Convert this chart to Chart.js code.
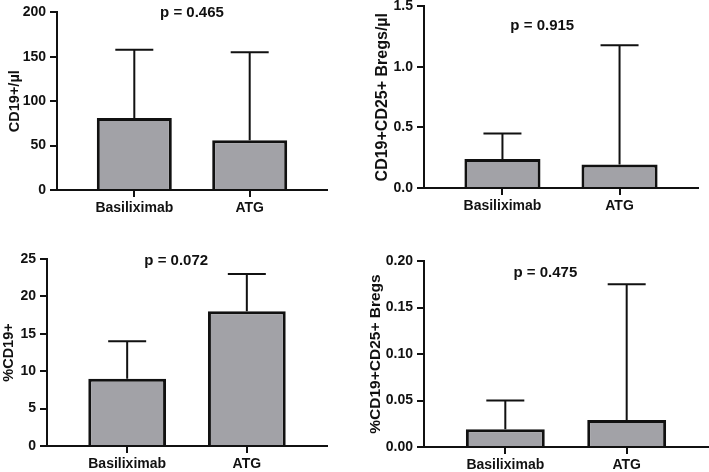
<!DOCTYPE html>
<html>
<head>
<meta charset="utf-8">
<script src="https://cdn.jsdelivr.net/npm/chart.js@4"></script>
<style>
  body { margin: 0; background: #fff; }
  #wrap { position: relative; width: 709px; height: 472px; overflow: hidden; }
  .box { position: absolute; }
</style>
</head>
<body>
<div id="wrap">
  <div class="box" style="left:0;top:0;width:345px;height:232px"><canvas id="c1"></canvas></div>
  <div class="box" style="left:350px;top:-6px;width:359px;height:238px"><canvas id="c2"></canvas></div>
  <div class="box" style="left:0;top:236px;width:345px;height:236px"><canvas id="c3"></canvas></div>
  <div class="box" style="left:350px;top:236px;width:359px;height:236px"><canvas id="c4"></canvas></div>
</div>
<script>
// groups on the x axis
const groups = ['Basiliximab', 'ATG'];

// CD19+/µl
const cd19Abs = [81, 56];
const cd19AbsErr = [158, 155];
const cd19AbsTicks = [0, 50, 100, 150, 200];

// CD19+CD25+ Bregs/µl
const bregAbs = [0.24, 0.195];
const bregAbsErr = [0.45, 1.18];
const bregAbsTicks = [0, 0.5, 1.0, 1.5];

// %CD19+
const cd19Pct = [9, 18];
const cd19PctErr = [14, 23];
const cd19PctTicks = [0, 5, 10, 15, 20, 25];

// %CD19+CD25+ Bregs
const bregPct = [0.019, 0.029];
const bregPctErr = [0.05, 0.175];
const bregPctTicks = [0, 0.05, 0.10, 0.15, 0.20];

const pValues = ['p = 0.465', 'p = 0.915', 'p = 0.072', 'p = 0.475'];

const FONT = '"Liberation Sans", Arial, sans-serif';

// error bars (upper only) + p value text
const errorBarPlugin = {
    id: 'errorBars',
    afterDatasetsDraw(chart, args, opts) {
        const ctx = chart.ctx;
        const meta = chart.getDatasetMeta(0);
        const yScale = chart.scales.y;
        const xScale = chart.scales.x;
        ctx.save();
        ctx.strokeStyle = '#111';
        ctx.lineWidth = 2;
        meta.data.forEach((bar, i) => {
            const x = bar.x;
            const yTop = yScale.getPixelForValue(opts.upper[i]);
            ctx.beginPath();
            ctx.moveTo(x, bar.y);
            ctx.lineTo(x, yTop);
            ctx.moveTo(x - 19, yTop);
            ctx.lineTo(x + 19, yTop);
            ctx.stroke();
        });
        // p value
        ctx.fillStyle = '#111';
        ctx.font = 'bold 15px ' + FONT;
        ctx.textAlign = 'center';
        ctx.textBaseline = 'middle';
        ctx.fillText(opts.pText, xScale.getPixelForValue(opts.pX), opts.pY);
        ctx.restore();
    }
};

function makeChart(id, yTitle, values, upper, ticks, decimals, pText, pX, pY, box) {
    const ctx = document.getElementById(id).getContext('2d');
    return new Chart(ctx, {
        type: 'bar',
        data: {
            datasets: [{
                data: values.map((v, i) => ({ x: i + 1, y: v })),
                backgroundColor: '#a2a2a7',
                borderColor: '#111',
                borderWidth: 3,
                barPercentage: 0.65,
                categoryPercentage: 1
            }]
        },
        options: {
            responsive: true,
            maintainAspectRatio: false,
            animation: false,
            layout: { padding: { top: box.top, right: box.right, left: 0, bottom: 0 } },
            plugins: {
                legend: { display: false },
                tooltip: { enabled: false },
                errorBars: { upper: upper, pText: pText, pX: pX, pY: pY }
            },
            scales: {
                x: {
                    type: 'linear',
                    offset: false,
                    min: 0.33,
                    max: 2.67,
                    afterBuildTicks: scale => { scale.ticks = groups.map((g, i) => ({ value: i + 1 })); },
                    afterFit: scale => { scale.height = box.xHeight; },
                    grid: { offset: false, drawOnChartArea: false, drawTicks: true, tickLength: 7, color: '#111', lineWidth: 2 },
                    border: { display: true, color: '#111', width: 2 },
                    ticks: {
                        padding: 3,
                        color: '#111',
                        font: { family: FONT, size: 14, weight: 'bold' },
                        callback: v => groups[v - 1]
                    }
                },
                y: {
                    min: ticks[0],
                    max: ticks[ticks.length - 1],
                    afterBuildTicks: scale => { scale.ticks = ticks.map(t => ({ value: t })); },
                    afterFit: scale => { scale.width = box.yWidth; },
                    grid: { drawOnChartArea: false, drawTicks: true, tickLength: 7, color: '#111', lineWidth: 2 },
                    border: { display: true, color: '#111', width: 2 },
                    ticks: {
                        padding: 4,
                        color: '#111',
                        font: { family: FONT, size: 14, weight: 'bold' },
                        callback: v => Number(v).toFixed(decimals)
                    },
                    title: {
                        display: true,
                        text: yTitle,
                        color: '#111',
                        font: { family: FONT, size: box.titleSize, weight: 'bold' },
                        padding: { top: box.titlePad, bottom: 0 }
                    }
                }
            }
        },
        plugins: [errorBarPlugin]
    });
}

makeChart('c1', 'CD19+/µl', cd19Abs, cd19AbsErr, cd19AbsTicks, 0, pValues[0], 1.5, 13,
    { top: 11, right: 18, yWidth: 57, xHeight: 42, titlePad: 6, titleSize: 14.5 });
makeChart('c2', 'CD19+CD25+ Bregs/µl', bregAbs, bregAbsErr, bregAbsTicks, 1, pValues[1], 1.34, 32,
    { top: 11, right: 11, yWidth: 74, xHeight: 44, titlePad: 23, titleSize: 16 });
makeChart('c3', '%CD19+', cd19Pct, cd19PctErr, cd19PctTicks, 0, pValues[2], 1.41, 25,
    { top: 23, right: 18, yWidth: 47, xHeight: 26, titlePad: 0, titleSize: 14.5 });
makeChart('c4', '%CD19+CD25+ Bregs', bregPct, bregPctErr, bregPctTicks, 2, pValues[3], 1.33, 37,
    { top: 25, right: 1, yWidth: 74, xHeight: 25, titlePad: 16, titleSize: 15.5 });
</script>
</body>
</html>
